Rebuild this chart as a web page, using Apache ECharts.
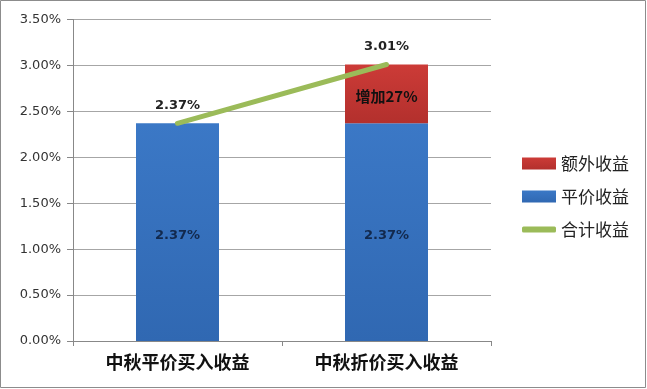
<!DOCTYPE html>
<html><head><meta charset="utf-8">
<script src="https://cdn.jsdelivr.net/npm/echarts@6/dist/echarts.min.js"></script>
<style>html,body{margin:0;padding:0;background:#fff}#c{width:647px;height:389px;}</style>
</head><body><div id="c"></div>
<script>
const categories = ['中秋平价买入收益', '中秋折价买入收益'];
const baseValues = [2.37, 2.37];      // 平价收益
const extraValues = [0, 0.64];        // 额外收益
const totalValues = [2.37, 3.01];     // 合计收益
const extraLabels = ['', '增加27%'];
const yTicks = [0, 0.5, 1, 1.5, 2, 2.5, 3, 3.5];

const chart = echarts.init(document.getElementById('c'));
const numFont = 'DejaVu Sans';
const cjkFont = '"Noto Sans CJK SC", sans-serif';
const legText = {fontSize: 17, color: '#222', fontFamily: cjkFont};
chart.setOption({
  animation: false,
  graphic: [{type:'rect', shape:{x:0.5,y:0.5,width:645,height:387}, style:{fill:'none', stroke:'#8c8c8c', lineWidth:1}}],
  grid: {left: 73, right: 156, top: 19.5, bottom: 48},
  legend: [
    {left: 517, top: 150, itemWidth: 34, itemHeight: 12, textStyle: legText, itemGap: 4,
      data: [{name:'额外收益', icon:'rect'}]},
    {left: 517, top: 183, itemWidth: 34, itemHeight: 12, textStyle: legText, itemGap: 4,
      data: [{name:'平价收益', icon:'rect'}]},
    {left: 517, top: 216, itemWidth: 34, itemHeight: 6, textStyle: legText, itemGap: 4,
      data: [{name:'合计收益', icon:'roundRect', itemStyle:{color:'#9BBB59', opacity:1}}]}
  ],
  xAxis: {
    type: 'category', data: categories,
    axisLine: {lineStyle: {color: '#888'}},
    axisTick: {show: true, length: 5, lineStyle: {color: '#888'}},
    axisLabel: {fontSize: 18, fontWeight: 'bold', color: '#111', fontFamily: cjkFont, margin: 12}
  },
  yAxis: {
    type: 'value', min: yTicks[0], max: yTicks[yTicks.length-1], interval: 0.5,
    axisLine: {show: true, lineStyle: {color: '#888'}},
    axisTick: {show: true, length: 6, lineStyle: {color: '#888'}},
    splitLine: {lineStyle: {color: '#a6a6a6'}},
    axisLabel: {fontSize: 13, color: '#333', fontFamily: numFont, margin: 12,
      formatter: v => v.toFixed(2) + '%'}
  },
  series: [
    {name:'平价收益', type:'bar', stack:'s', data: baseValues, barWidth: 83,
      itemStyle: {color: new echarts.graphic.LinearGradient(0,0,0,1,[{offset:0,color:'#3B78C6'},{offset:1,color:'#3068B2'}])},
      label: {show:true, position:'inside', offset:[0,3], fontSize: 13, fontWeight:'bold', color:'#12294d', fontFamily: numFont,
        formatter: p => p.value.toFixed(2) + '%'}},
    {name:'额外收益', type:'bar', stack:'s', data: extraValues, barWidth: 83,
      itemStyle: {color: new echarts.graphic.LinearGradient(0,0,0,1,[{offset:0,color:'#CC3B37'},{offset:1,color:'#B3302D'}])},
      label: {show:true, position:'inside', offset:[0,2], fontSize: 15, fontWeight:'bold', color:'#111', fontFamily: cjkFont,
        formatter: p => extraLabels[p.dataIndex]}},
    {name:'合计收益', type:'line', data: totalValues, symbol:'circle', symbolSize: 1, showSymbol: true, z: 5,
      lineStyle: {color:'#9BBB59', width: 5, cap:'round'}, itemStyle:{color:'#9BBB59'},
      label: {show:true, position:'top', distance: 11, fontSize: 13, fontWeight:'bold', color:'#222', fontFamily: numFont,
        formatter: p => p.value.toFixed(2) + '%'}}
  ]
});
</script></body></html>
